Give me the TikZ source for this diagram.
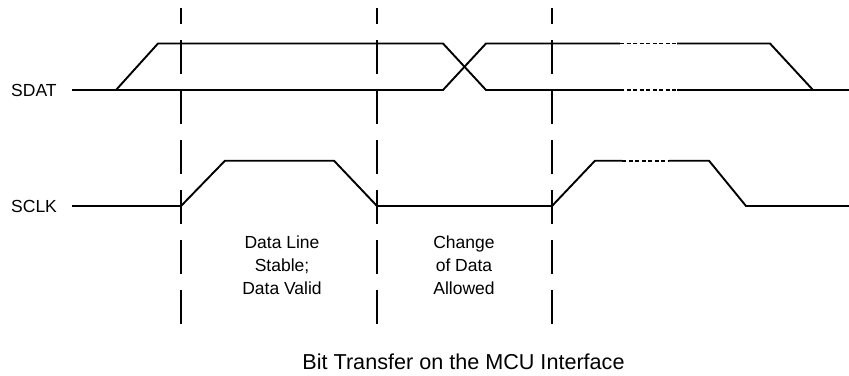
\documentclass[tikz,border=0pt]{standalone}
\usepackage{fontspec}
\setmainfont{Liberation Sans}
\begin{document}
\begin{tikzpicture}[x=1pt,y=-1pt,
  sig/.style={line width=1.9pt, line join=miter},
  dots/.style={line width=1.8pt, dash pattern=on 4pt off 2.5pt},
  guide/.style={line width=1.9pt, dash pattern=on 34pt off 16pt},
  lbl/.style={font=\fontsize{17.5}{23}\selectfont, align=center, inner sep=0pt},
  ttl/.style={font=\fontsize{21.6}{25}\selectfont, inner sep=0pt}]
\useasboundingbox (0,0) rectangle (849,375);
% guides
\foreach \gx/\nm in {181/g1,377/g2,552/g3}{
  \coordinate (\nm b) at (\gx,324);
  \coordinate (\nm t) at (\gx,8);
  \draw[guide] (\nm b) -- (\nm t);
}
% labels
\node[lbl, anchor=west] (sdat) at (11,90) {SDAT};
\node[lbl, anchor=west] (sclk) at (11,206) {SCLK};
% SDAT
\draw[sig] (72,90) -- (116,90) -- (158,43.5) -- (443,43.5) -- (486,90) -- (620,90);
\draw[sig] (116,90) -- (443,90) -- (486,43.5) -- (620,43.5);
\draw[dots] (620,43.5) -- (677,43.5);
\draw[dots] (620,90) -- (677,90);
\draw[sig] (677,43.5) -- (770,43.5) -- (813,90);
\draw[sig] (677,90) -- (849,90);
% SCLK
\draw[sig] (72,206) -- (181,206) -- (225,160.7) -- (334,160.7) -- (377,206) -- (552,206) -- (595,160.7) -- (622,160.7);
\draw[dots] (622,160.7) -- (669,160.7);
\draw[sig] (669,160.7) -- (709,160.7) -- (746,206) -- (849,206);
% texts
\node[lbl] (stable) at (282,265) {Data Line\\Stable;\\Data Valid};
\node[lbl] (change) at (464,265) {Change\\of Data\\Allowed};
\node[ttl] (title) at (463.5,362) {Bit Transfer on the MCU Interface};
\end{tikzpicture}
\end{document}
